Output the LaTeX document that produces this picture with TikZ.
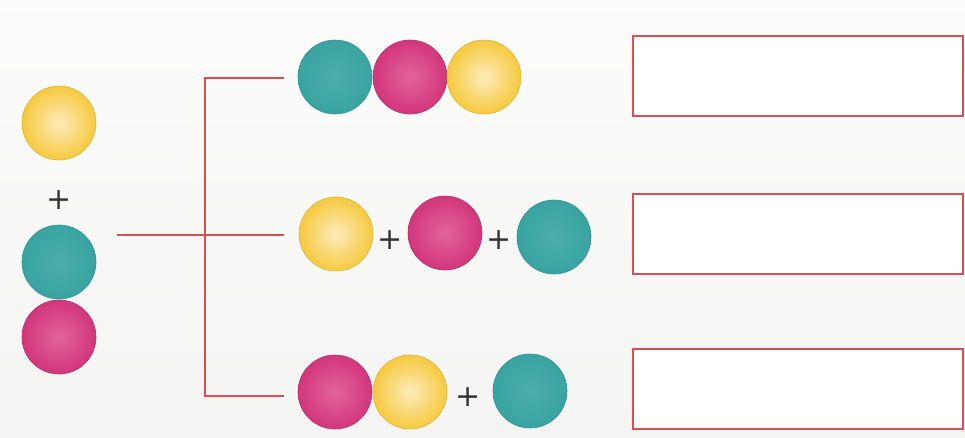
\documentclass[tikz,border=0pt]{standalone}
\usepackage{fontspec}
\newfontfamily\plfont{DejaVu Sans}
\usetikzlibrary{positioning}
\definecolor{ballY}{HTML}{F6C93E}
\definecolor{ballT}{HTML}{38A4A1}
\definecolor{ballM}{HTML}{D9387F}
\definecolor{lineR}{HTML}{DC4F50}
\definecolor{bgG}{HTML}{F4F4F3}
\begin{document}
\begin{tikzpicture}[x=1pt,y=-1pt,
 ball/.style={circle,minimum size=74pt,inner sep=0pt,shade,line width=.6pt},
 yel/.style={ball,draw=ballY!90!black,inner color=ballY!35!white,outer color=ballY},
 tea/.style={ball,draw=ballT!90!black,inner color=ballT!90!white,outer color=ballT},
 mag/.style={ball,draw=ballM!85!black,inner color=ballM!78!white,outer color=ballM!97!black},
 pl/.style={font=\plfont\fontsize{30}{30}\selectfont,text=black!80,inner sep=0pt},
 link/.style={draw=lineR,line width=1.6pt},
 slot/.style={draw=lineR,line width=2pt,fill=white,minimum width=330pt,minimum height=80pt,inner sep=0pt}]
\useasboundingbox (0,0) rectangle (965,437);
\shade[top color=white!70!bgG,bottom color=bgG] (0,0) rectangle (965,437);
% left: the three starting balls
\node[yel] (L-y) at (59,123) {};
\node[pl] (L-p) at (59,200) {+};
\node[tea] (L-t) at (59,262) {};
\node[mag] (L-m) at (59,337) {};
% row a
\node[tea] (A-t) at (335,77) {};\node[mag] (A-m) at (410,77) {};\node[yel] (A-y) at (484,77) {};
% row b
\node[yel] (B-y) at (336,234) {};\node[pl] (B-p1) at (390,240) {+};
\node[mag] (B-m) at (445,233) {};\node[pl] (B-p2) at (499,240) {+};
\node[tea] (B-t) at (554,237) {};
% row c
\node[mag] (C-m) at (335,392) {};\node[yel] (C-y) at (410,392) {};
\node[pl] (C-p) at (468,397) {+};\node[tea] (C-t) at (530,391) {};
% branching lines
\coordinate (J-in) at (117,235);\coordinate (J-n) at (205,78);\coordinate (J-s) at (205,396);
\coordinate (A-in) at (284,78);\coordinate (B-in) at (284,235);\coordinate (C-in) at (284,396);
\draw[link] (J-in)--(B-in);
\draw[link] (A-in)--(J-n)--(J-s)--(C-in);
% answer boxes
\node[slot] (Box-a) at (798,75.5) {};
\node[slot] (Box-b) at (798,234) {};
\node[slot] (Box-c) at (798,388.5) {};
\end{tikzpicture}
\end{document}
